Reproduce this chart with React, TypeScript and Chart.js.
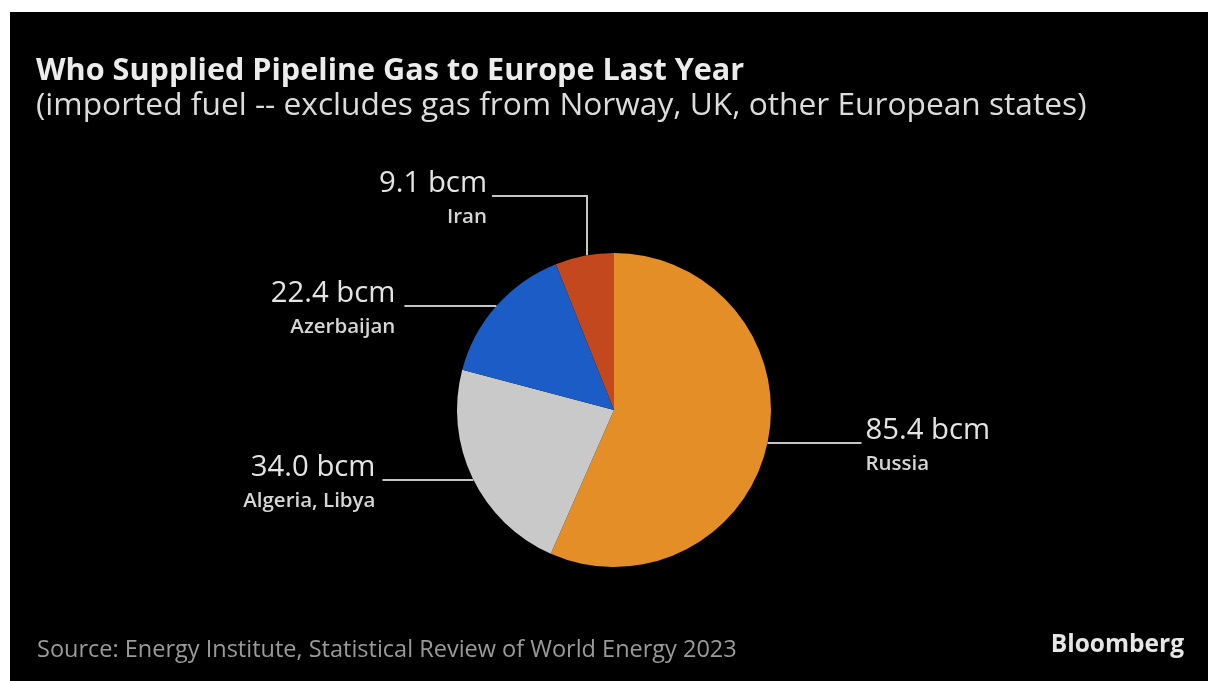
import React, { useEffect, useRef } from "react";
import { Chart, registerables } from "chart.js";

Chart.register(...registerables);

const categories = ["Russia", "Algeria, Libya", "Azerbaijan", "Iran"];
const values = [85.4, 34.0, 22.4, 9.1];
const valueLabels = ["85.4 bcm", "34.0 bcm", "22.4 bcm", "9.1 bcm"];
const colors = ["#E48E27", "#C9C9C9", "#1B5CC6", "#C4481E"];

const titleText = "Who Supplied Pipeline Gas to Europe Last Year";
const subtitleText = "(imported fuel -- excludes gas from Norway, UK, other European states)";
const sourceText = "Source: Energy Institute, Statistical Review of World Energy 2023";
const brandText = "Bloomberg";

const FONT = '"Open Sans", "Noto Sans", sans-serif';

const decorPlugin = {
  id: "decor",
  beforeDraw(chart: any) {
    const { ctx, width, height } = chart;
    ctx.save();
    ctx.fillStyle = "#ffffff";
    ctx.fillRect(0, 0, width, height);
    ctx.fillStyle = "#000000";
    ctx.fillRect(10, 12, width - 10, height - 12);
    ctx.textBaseline = "middle";
    ctx.textAlign = "left";
    ctx.fillStyle = "#ececec";
    ctx.font = `bold 30.6px ${FONT}`;
    ctx.fillText(titleText, 36, 71);
    ctx.font = `31.7px ${FONT}`;
    ctx.fillStyle = "#dcdcdc";
    ctx.fillText(subtitleText, 36, 106);
    ctx.font = `23.5px ${FONT}`;
    ctx.fillStyle = "#9a9a9a";
    ctx.fillText(sourceText, 37, 650);
    ctx.font = `bold 24.5px ${FONT}`;
    ctx.fillStyle = "#e6e6e6";
    ctx.textAlign = "right";
    ctx.fillText(brandText, 1184, 645);
    ctx.restore();
  },
  afterDraw(chart: any) {
    const { ctx } = chart;
    const meta = chart.getDatasetMeta(0);
    const arc = meta.data[0];
    const cx = arc.x;
    const cy = arc.y;
    const r = arc.outerRadius;
    const edgeX = (dy: number, side: number) => cx + side * Math.sqrt(r * r - dy * dy);
    ctx.save();
    ctx.strokeStyle = "#c4c4c4";
    ctx.lineWidth = 2;
    const lines: Array<{ y: number; side: number; len: number; gap: number }> = [
      { y: cy + 33, side: 1, len: 94, gap: 4 },   // Russia
      { y: cy + 70, side: -1, len: 91, gap: 7 },  // Algeria
      { y: cy - 104, side: -1, len: 92, gap: 9 }, // Azerbaijan
    ];
    const labelAnchors: Array<{ x: number; y: number; align: string }> = [];
    lines.forEach((l) => {
      const x0 = edgeX(l.y - cy, l.side);
      const x1 = x0 + l.side * l.len;
      ctx.beginPath();
      ctx.moveTo(x0, l.y);
      ctx.lineTo(x1, l.y);
      ctx.stroke();
      labelAnchors.push({ x: x1 + l.side * l.gap, y: l.y, align: l.side > 0 ? "left" : "right" });
    });
    const ix = cx - 27;
    const iy = cy - Math.sqrt(r * r - 27 * 27);
    const topY = cy - 214;
    ctx.beginPath();
    ctx.moveTo(ix, iy);
    ctx.lineTo(ix, topY);
    ctx.lineTo(ix - 95, topY);
    ctx.stroke();
    labelAnchors.push({ x: ix - 100, y: topY, align: "right" });

    labelAnchors.forEach((a, i) => {
      ctx.textAlign = a.align;
      ctx.textBaseline = "middle";
      ctx.fillStyle = "#e4e4e4";
      ctx.font = `29.3px ${FONT}`;
      ctx.fillText(valueLabels[i], a.x, a.y - 12);
      ctx.fillStyle = "#d6d6d6";
      ctx.font = `600 20.5px ${FONT}`;
      ctx.fillText(categories[i], a.x, a.y + 21);
    });
    ctx.restore();
  },
};

export default function App() {
  const ref = useRef<HTMLCanvasElement>(null);
  useEffect(() => {
    document.body.style.margin = "0";
    const chart = new Chart(ref.current!, {
      type: "pie",
      data: {
        labels: categories,
        datasets: [
          {
            data: values,
            backgroundColor: colors,
            borderWidth: 0,
          },
        ],
      },
      options: {
        animation: false,
        responsive: false,
        maintainAspectRatio: false,
        devicePixelRatio: 1,
        layout: { padding: { left: 457, right: 437, top: 253, bottom: 114 } },
        plugins: {
          legend: { display: false },
          tooltip: { enabled: false },
        },
      },
      plugins: [decorPlugin],
    });
    return () => chart.destroy();
  }, []);
  return (
    <div style={{ position: "absolute", left: 0, top: 0, width: 1208, height: 681 }}>
      <canvas ref={ref} width={1208} height={681} style={{ display: "block", width: 1208, height: 681 }} />
    </div>
  );
}
